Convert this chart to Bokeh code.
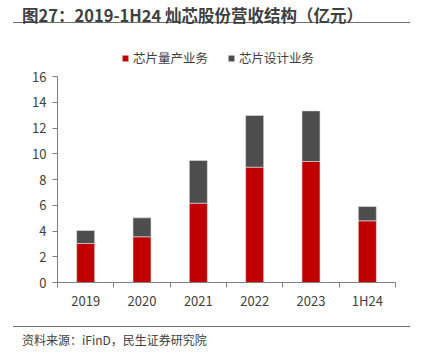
from bokeh.plotting import figure
from bokeh.layouts import column
from bokeh.models import (Range1d, FixedTicker, Legend, LegendItem, ColumnDataSource, Div)
from bokeh.embed import file_html
from bokeh.resources import INLINE

categories = ["2019", "2020", "2021", "2022", "2023", "1H24"]
mass_production = [3.03, 3.55, 6.16, 8.96, 9.40, 4.79]
chip_design = [1.01, 1.47, 3.32, 4.01, 3.93, 1.11]
series_names = ["芯片量产业务", "芯片设计业务"]
y_ticks = [0, 2, 4, 6, 8, 10, 12, 14, 16]

title_text = "图27：2019-1H24 灿芯股份营收结构（亿元）"
source_text = "资料来源：iFinD，民生证券研究院"

FONT = "Noto Sans CJK SC"
RED = "#C00000"
GRAY = "#4D4D4D"
AX = "#7f7f7f"
TXT = "#404040"
RULE = "#6e6e6e"
W = 433

# ---- header ----
top = Div(text=f'<div style="margin-left:13px;width:397px;height:23px;padding-left:9px;'
               f'border-bottom:1.3px solid {RULE};line-height:30px;white-space:nowrap;'
               f'font-family:\'{FONT}\';font-size:16.5px;font-weight:bold;color:{TXT};">'
               f'{title_text}</div>',
          width=W, height=30, margin=0)

# ---- main chart ----
n = len(categories)
centers = [i + 0.5 for i in range(n)]
bounds_ticks = list(range(n + 1))
src = ColumnDataSource(dict(x=centers, mass=mass_production, design=chip_design))

frame_h = 252
axis_h = 206
p = figure(width=W, height=296, x_range=Range1d(0, n),
           y_range=Range1d(0, 16 * frame_h / axis_h), output_backend="svg",
           toolbar_location=None, min_border_left=57, min_border_right=38,
           min_border_top=0, min_border_bottom=44, margin=0)
p.outline_line_color = None
p.xgrid.visible = False
p.ygrid.visible = False

r = p.vbar_stack(["mass", "design"], x="x", width=0.32, source=src,
                 color=[RED, GRAY], line_color="#e0e0e0", line_width=0.6)

ya = p.yaxis[0]
ya.ticker = FixedTicker(ticks=y_ticks)
ya.bounds = (0, 16)
ya.axis_line_color = AX
ya.major_tick_line_color = AX
ya.major_tick_in = 0
ya.major_tick_out = 5
ya.minor_tick_line_color = None
ya.major_label_text_font = FONT
ya.major_label_text_font_size = "13px"
ya.major_label_text_color = TXT
ya.major_label_standoff = 6

xa = p.xaxis[0]
xa.ticker = FixedTicker(ticks=centers, minor_ticks=bounds_ticks)
xa.major_label_overrides = {c: lab for c, lab in zip(centers, categories)}
xa.axis_line_color = AX
xa.major_tick_line_color = None
xa.major_tick_in = 0
xa.major_tick_out = 0
xa.minor_tick_line_color = AX
xa.minor_tick_in = 0
xa.minor_tick_out = 5
xa.major_label_text_font = FONT
xa.major_label_text_font_size = "13px"
xa.major_label_text_color = TXT
xa.major_label_standoff = 3

legend = Legend(items=[LegendItem(label=series_names[0], renderers=[r[0]]),
                       LegendItem(label=series_names[1], renderers=[r[1]])],
                orientation="horizontal", location=(64, 215),
                label_text_font=FONT, label_text_font_size="12.5px", label_text_color=TXT,
                glyph_width=8, glyph_height=8, spacing=19, label_standoff=4,
                padding=0, margin=0, border_line_color=None, background_fill_alpha=0)
p.add_layout(legend, "center")

# ---- footer ----
bot = Div(text=f'<div style="margin-left:13px;width:397px;height:26px;padding-left:9px;'
               f'border-top:1px solid {RULE};line-height:26px;white-space:nowrap;'
               f'font-family:\'{FONT}\';font-size:12px;color:{TXT};">'
               f'{source_text}</div>',
          width=W, height=28, margin=0)

layout = column(top, p, bot, spacing=0)
open("out.html", "w").write(file_html(layout, INLINE))
